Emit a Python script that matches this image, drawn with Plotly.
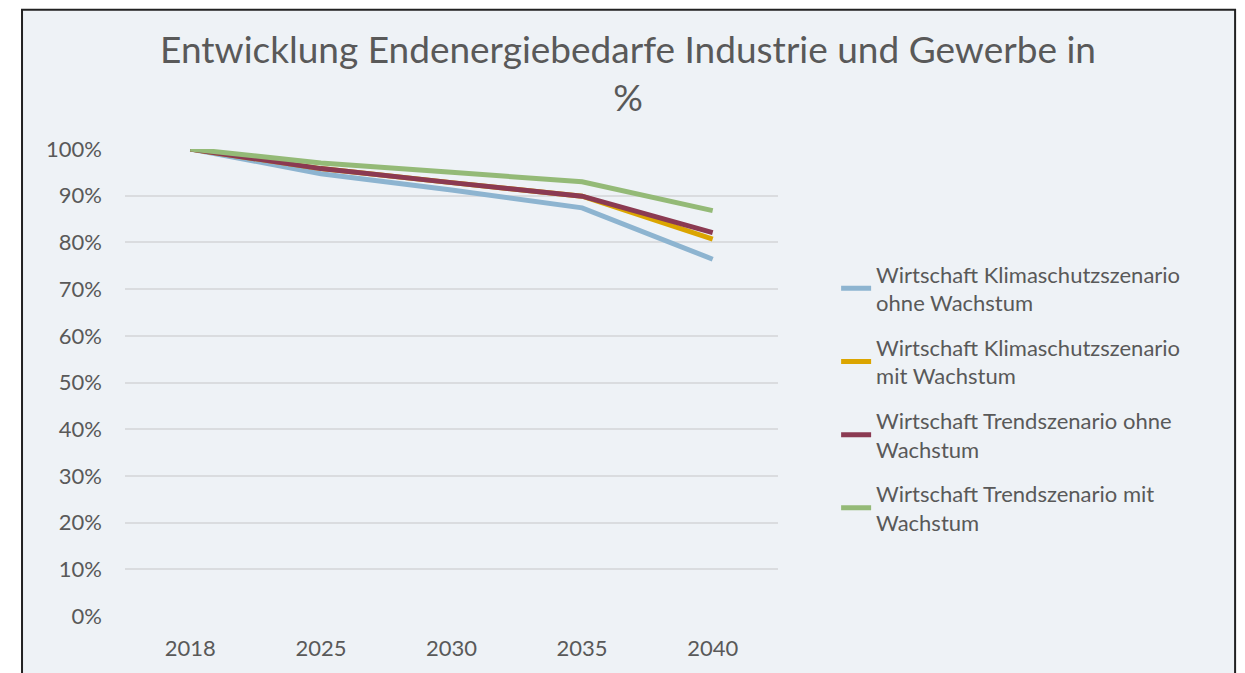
import plotly.graph_objects as go

years = ["2018", "2025", "2030", "2035", "2040"]

klima_ohne = [1.00, 0.947, 0.912, 0.874, 0.764]
klima_mit = [1.00, 0.958, 0.928, 0.899, 0.807]
trend_ohne = [1.00, 0.958, 0.928, 0.899, 0.821]
trend_mit = [1.00, 0.970, 0.950, 0.930, 0.868]

series = [
    ("Wirtschaft Klimaschutzszenario<br>ohne Wachstum", klima_ohne, "#8DB4D0"),
    ("Wirtschaft Klimaschutzszenario<br>mit Wachstum", klima_mit, "#DBA500"),
    ("Wirtschaft Trendszenario ohne<br>Wachstum", trend_ohne, "#8B3A52"),
    ("Wirtschaft Trendszenario mit<br>Wachstum", trend_mit, "#94BA77"),
]

fig = go.Figure()
for i, (name, vals, col) in enumerate(series):
    fig.add_trace(go.Scatter(x=years, y=vals, name=name, mode="lines",
                             legendgroup=f"g{i}",
                             line=dict(color=col, width=5)))

# Rahmen + Hintergrund
fig.add_shape(type="rect", xref="paper", yref="paper",
              x0=-0.1577, x1=1.7, y0=-0.2, y1=1.298,
              line=dict(color="#222222", width=2), fillcolor="#EEF2F6",
              layer="below")

fig.update_layout(
    width=1245, height=673,
    margin=dict(l=117, r=475, t=141, b=65),
    paper_bgcolor="white",
    plot_bgcolor="rgba(0,0,0,0)",
    font=dict(family="Lato", size=22, color="#595959"),
    title=dict(text="Entwicklung Endenergiebedarfe Industrie und Gewerbe in<br>%",
               x=0.498, xanchor="center", y=1 - 55 / 673, yanchor="middle",
               font=dict(size=37, color="#595959")),
    showlegend=True,
    legend=dict(x=1.089, xanchor="left", y=0.777, yanchor="top",
                bgcolor="rgba(0,0,0,0)", tracegroupgap=13,
                font=dict(size=22, color="#595959")),
    xaxis=dict(range=[-0.5, 4.5], showgrid=False, zeroline=False,
               showline=False, ticks="", ticklabelstandoff=17),
    yaxis=dict(range=[0, 1.0], dtick=0.1, tickformat=".0%",
               showgrid=True, gridcolor="#DADCDF", gridwidth=1.5,
               zeroline=False, showline=False, ticklabelstandoff=22),
)

fig.write_html("out.html")
